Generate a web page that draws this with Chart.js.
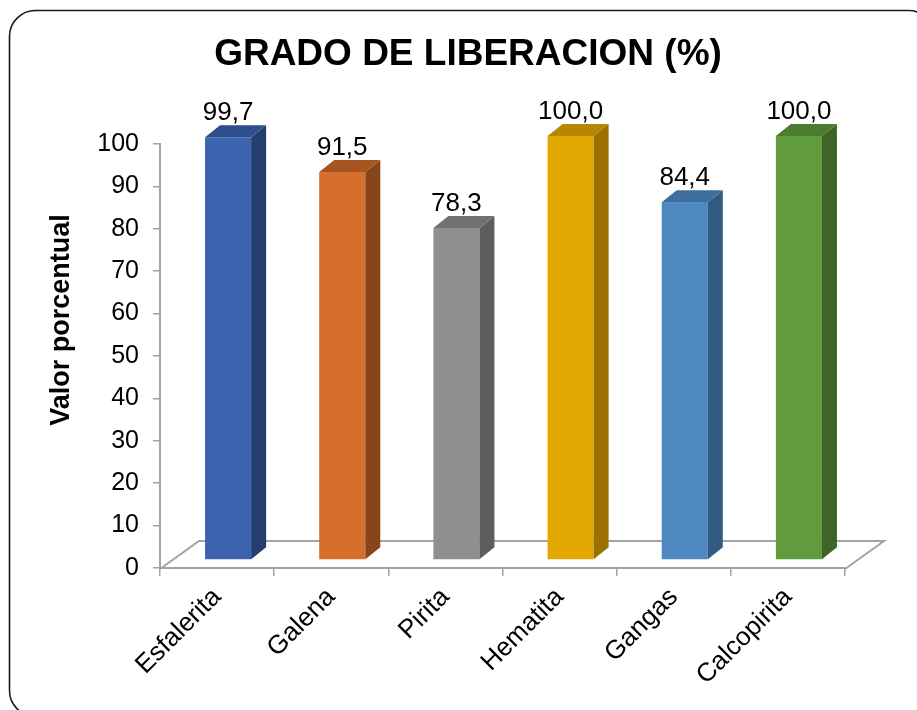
<!DOCTYPE html>
<html>
<head>
<meta charset="utf-8">
<script src="https://cdn.jsdelivr.net/npm/chart.js@4"></script>
<style>
  html, body { margin: 0; padding: 0; background: #ffffff; }
  #wrap { width: 917px; height: 710px; }
</style>
</head>
<body>
<div id="wrap"><canvas id="chart" width="917" height="710"></canvas></div>
<script>
// Mineral categories and their liberation degree (%)
const categories = ['Esfalerita', 'Galena', 'Pirita', 'Hematita', 'Gangas', 'Calcopirita'];
const liberation = [99.7, 91.5, 78.3, 100.0, 84.4, 100.0];
const yTicks = [0, 10, 20, 30, 40, 50, 60, 70, 80, 90, 100];

// Face colours for each 3D column: front, right side, top
const frontColors = ['#3b63ae', '#d56f2b', '#8f8f8f', '#e2a700', '#4f88c1', '#609b3e'];
const sideColors  = ['#243f6f', '#89451a', '#5d5d5d', '#9a7100', '#315a81', '#3e6427'];
const topColors   = ['#2e4f8b', '#a65420', '#717171', '#b68700', '#3d6f9d', '#4c7c31'];

const FONT = '"Liberation Sans", Arial, sans-serif';
const GRAY = '#a3a3a3';

// Perspective offsets
const FLOOR_DX = 39, FLOOR_DY = -28;   // floor depth
const BAR_DX = 15, BAR_DY = -12;       // column depth
const BAR_SHIFT_X = 11, BAR_SHIFT_Y = -8;

const fmt = v => v.toFixed(1).replace('.', ',');

const column3d = {
  id: 'column3d',
  beforeDraw(chart) {
    // rounded outer frame
    const ctx = chart.ctx;
    ctx.save();
    ctx.strokeStyle = '#1a1a1a';
    ctx.lineWidth = 1.6;
    ctx.beginPath();
    ctx.roundRect(9.5, 10.5, 925, 706, 26);
    ctx.stroke();
    ctx.restore();
  },
  beforeDatasetsDraw(chart) {
    // floor parallelogram behind the columns
    const ctx = chart.ctx;
    const xs = chart.scales.x, ys = chart.scales.y;
    const y0 = ys.getPixelForValue(0) + 1;
    const l = xs.left, r = xs.right;
    ctx.save();
    ctx.strokeStyle = GRAY;
    ctx.lineWidth = 2;
    ctx.beginPath();
    ctx.moveTo(l, y0);
    ctx.lineTo(l + FLOOR_DX, y0 + FLOOR_DY);
    ctx.lineTo(r + FLOOR_DX, y0 + FLOOR_DY);
    ctx.lineTo(r, y0);
    ctx.stroke();
    ctx.restore();
  },
  afterDatasetsDraw(chart) {
    const ctx = chart.ctx;
    const meta = chart.getDatasetMeta(0);
    ctx.save();
    meta.data.forEach((el, i) => {
      const cx = el.x + BAR_SHIFT_X;
      const w = el.width;
      const L = cx - w / 2, R = cx + w / 2;
      const T = el.y + BAR_SHIFT_Y, B = el.base + BAR_SHIFT_Y;
      // front
      ctx.fillStyle = frontColors[i];
      ctx.fillRect(L, T, w, B - T);
      // side
      ctx.fillStyle = sideColors[i];
      ctx.beginPath();
      ctx.moveTo(R, T);
      ctx.lineTo(R + BAR_DX, T + BAR_DY);
      ctx.lineTo(R + BAR_DX, B + BAR_DY);
      ctx.lineTo(R, B);
      ctx.closePath();
      ctx.fill();
      // top
      ctx.fillStyle = topColors[i];
      ctx.beginPath();
      ctx.moveTo(L, T);
      ctx.lineTo(L + BAR_DX, T + BAR_DY);
      ctx.lineTo(R + BAR_DX, T + BAR_DY);
      ctx.lineTo(R, T);
      ctx.closePath();
      ctx.fill();
      // value label
      ctx.fillStyle = '#000000';
      ctx.font = '26px ' + FONT;
      ctx.textAlign = 'center';
      ctx.textBaseline = 'alphabetic';
      ctx.fillText(fmt(liberation[i]), cx, T - 17);
    });
    // vertical axis title
    ctx.translate(62, 320);
    ctx.rotate(-Math.PI / 2);
    ctx.font = 'bold 27px ' + FONT;
    ctx.textAlign = 'center';
    ctx.textBaseline = 'middle';
    ctx.fillText('Valor porcentual', 0, 0);
    ctx.restore();
  }
};

new Chart(document.getElementById('chart'), {
  type: 'bar',
  data: {
    labels: categories,
    datasets: [{
      data: liberation,
      backgroundColor: 'rgba(0,0,0,0)',
      borderWidth: 0,
      categoryPercentage: 1,
      barPercentage: 46 / 114
    }]
  },
  options: {
    responsive: false,
    animation: false,
    devicePixelRatio: 1,
    layout: { padding: { left: 91, right: 72, top: 0, bottom: 0 } },
    plugins: {
      legend: { display: false },
      tooltip: { enabled: false },
      title: {
        display: true,
        text: 'GRADO DE LIBERACION (%)',
        color: '#000000',
        font: { family: FONT, size: 37, weight: 'bold', lineHeight: 1.2 },
        padding: { top: 33, bottom: 66.6 }
      }
    },
    scales: {
      y: {
        min: 0,
        max: 100,
        afterBuildTicks: s => { s.ticks = yTicks.map(v => ({ value: v })); },
        afterFit: s => { s.width = 69; },
        ticks: {
          color: '#000000',
          font: { family: FONT, size: 25 },
          padding: 14
        },
        grid: { drawOnChartArea: false, color: GRAY, lineWidth: 1.5, tickLength: 7 },
        border: { color: GRAY, width: 2 }
      },
      x: {
        afterFit: s => { s.height = 142; },
        ticks: {
          color: '#000000',
          font: { family: FONT, size: 26 },
          minRotation: 45,
          maxRotation: 45,
          autoSkip: false,
          padding: 6
        },
        grid: { offset: true, drawOnChartArea: false, color: GRAY, lineWidth: 1.5, tickLength: 8 },
        border: { color: GRAY, width: 2 }
      }
    }
  },
  plugins: [column3d]
});
</script>
</body>
</html>
